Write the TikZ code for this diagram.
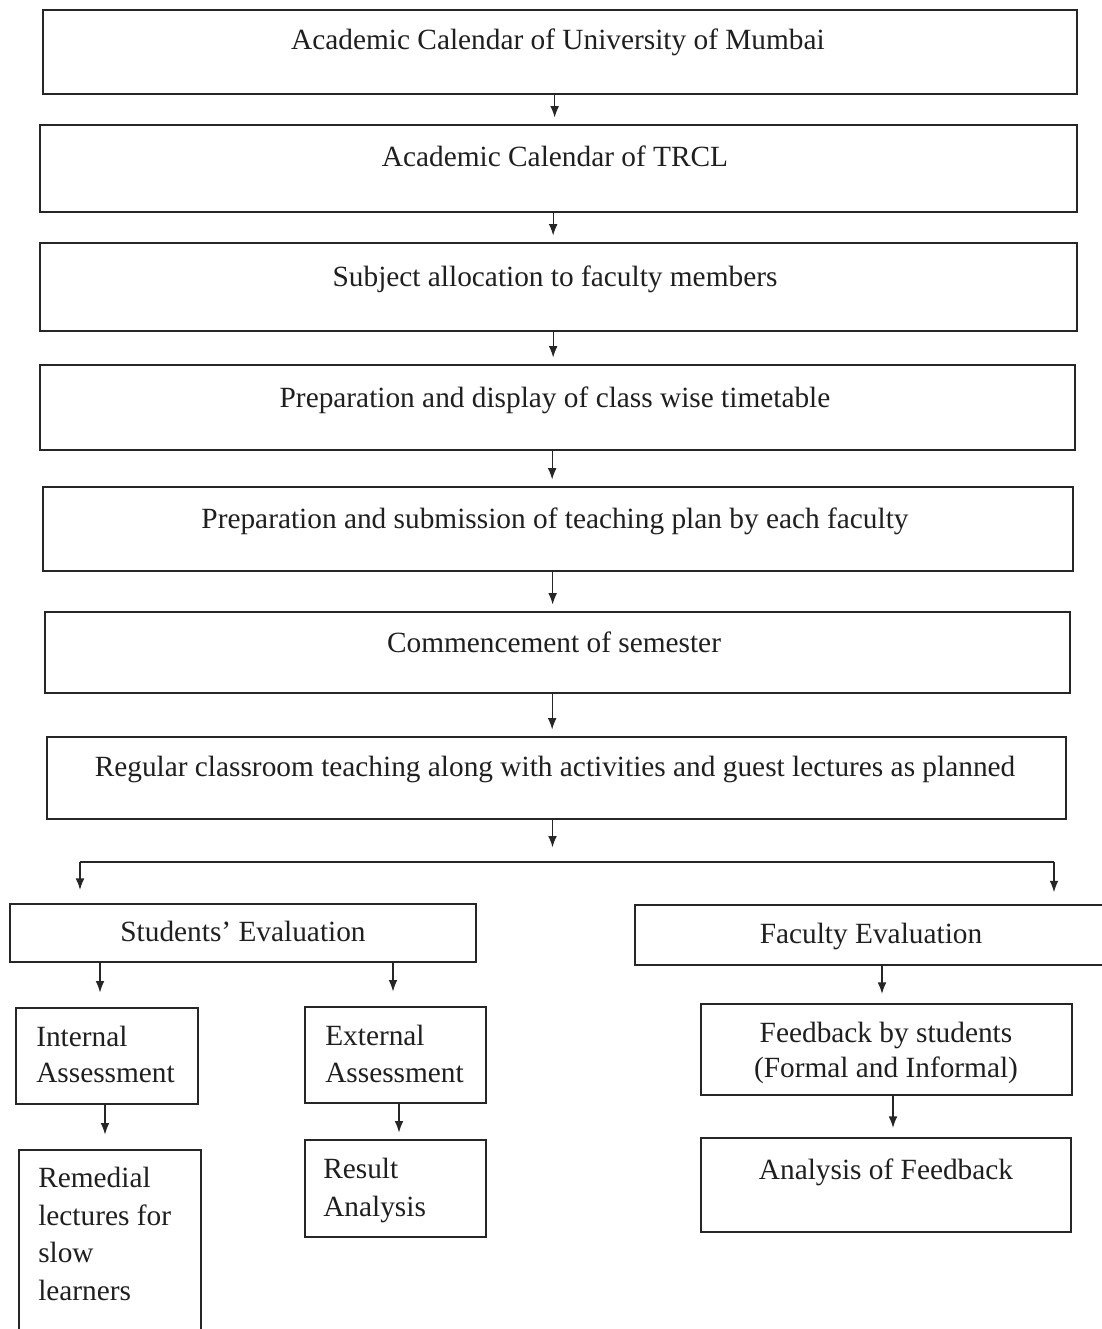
\documentclass[tikz,border=0pt]{standalone}
\usepackage{fontspec}
\setmainfont{Liberation Serif}
\usetikzlibrary{arrows.meta,fit,calc}
\begin{document}
\begin{tikzpicture}[x=0.75pt,y=-0.75pt,
  box/.style={draw=black!85,line width=1.3pt,inner sep=0pt,rectangle},
  txt/.style={font=\fontsize{22}{28}\selectfont,inner sep=0pt,text=black!88},
  arr/.style={draw=black!85,line width=0.8pt,-{Latex[length=8.5pt,width=6.5pt]}},
  bar/.style={draw=black!85,line width=1.3pt}]
\useasboundingbox[fill=white] (0,0) rectangle (1102,1329);
% main chain boxes
\node[box,fit={(43,10) (1077,94)}] (b1) {};
\node[box,fit={(40,125) (1077,212)}] (b2) {};
\node[box,fit={(40,243) (1077,331)}] (b3) {};
\node[box,fit={(40,365) (1075,450)}] (b4) {};
\node[box,fit={(43,487) (1073,571)}] (b5) {};
\node[box,fit={(45,612) (1070,693)}] (b6) {};
\node[box,fit={(47,737) (1066,819)}] (b7) {};
% texts
\node[txt,anchor=base] (t1) at (558,49) {Academic Calendar of University of Mumbai};
\node[txt,anchor=base] (t2) at (555,166) {Academic Calendar of TRCL};
\node[txt,anchor=base] (t3) at (555,286) {Subject allocation to faculty members};
\node[txt,anchor=base] (t4) at (555,407) {Preparation and display of class wise timetable};
\node[txt,anchor=base] (t5) at (555,528) {Preparation and submission of teaching plan by each faculty};
\node[txt,anchor=base] (t6) at (554,652) {Commencement of semester};
\node[txt,anchor=base] (t7) at (555,776) {Regular classroom teaching along with activities and guest lectures as planned};
% chain arrows
\foreach \a/\b in {b1/b2,b2/b3,b3/b4,b4/b5,b5/b6,b6/b7}
  \draw[arr] ([xshift=-4pt]\a.south) -- ([xshift=-4pt,yshift=5pt]\a.south |- \b.north);
% branch
\coordinate (bl) at (80,862);
\coordinate (br) at (1054,862);
\coordinate (bc) at ([xshift=-3pt,yshift=11pt]b7.south |- bl);
\draw[arr] ([xshift=-3pt]b7.south) -- (bc);
\draw[bar] (bl) -- (br);
% evaluation boxes
\node[box,fit={(10,904) (476,962)}] (se) {};
\node[box,fit={(635,905) (1112,965)}] (fe) {};
\node[txt,anchor=base] (tse) at (243,941) {Students’ Evaluation};
\node[txt,anchor=base] (tfe) at (871,943) {Faculty Evaluation};
\draw[arr] (bl) -- ([yshift=10pt]bl |- se.north);
\draw[arr] (br) -- ([yshift=9pt]br |- fe.north);
% lower boxes
\node[box,fit={(16,1008) (198,1104)}] (ia) {};
\node[box,fit={(305,1007) (486,1103)}] (ea) {};
\node[box,fit={(701,1004) (1072,1095)}] (fs) {};
\node[box,fit={(19,1150) (201,1345)}] (rl) {};
\node[box,fit={(305,1140) (486,1237)}] (ra) {};
\node[box,fit={(701,1138) (1071,1232)}] (af) {};
\node[txt,anchor=base west] (tia1) at (36,1046) {Internal};
\node[txt,anchor=base west] (tia2) at (36,1082) {Assessment};
\node[txt,anchor=base west] (tea1) at (325,1045) {External};
\node[txt,anchor=base west] (tea2) at (325,1082) {Assessment};
\node[txt,anchor=base] (tfs1) at (886,1042) {Feedback by students};
\node[txt,anchor=base] (tfs2) at (886,1077) {(Formal and Informal)};
\node[txt,anchor=base west] (trl1) at (38,1187) {Remedial};
\node[txt,anchor=base west] (trl2) at (38,1225) {lectures for};
\node[txt,anchor=base west] (trl3) at (38,1262) {slow};
\node[txt,anchor=base west] (trl4) at (38,1300) {learners};
\node[txt,anchor=base west] (tra1) at (323,1178) {Result};
\node[txt,anchor=base west] (tra2) at (323,1216) {Analysis};
\node[txt,anchor=base] (taf) at (886,1179) {Analysis of Feedback};
% sub arrows
\draw[arr] (100,962) -- ([yshift=11pt]100,0 |- ia.north);
\draw[arr] (393,962) -- ([yshift=11pt]393,0 |- ea.north);
\draw[arr] (882,965) -- ([yshift=7pt]882,0 |- fs.north);
\draw[arr] (105,1104) -- ([yshift=11pt]105,0 |- rl.north);
\draw[arr] (399,1103) -- ([yshift=5pt]399,0 |- ra.north);
\draw[arr] (893,1095) -- ([yshift=7pt]893,0 |- af.north);
\end{tikzpicture}
\end{document}
